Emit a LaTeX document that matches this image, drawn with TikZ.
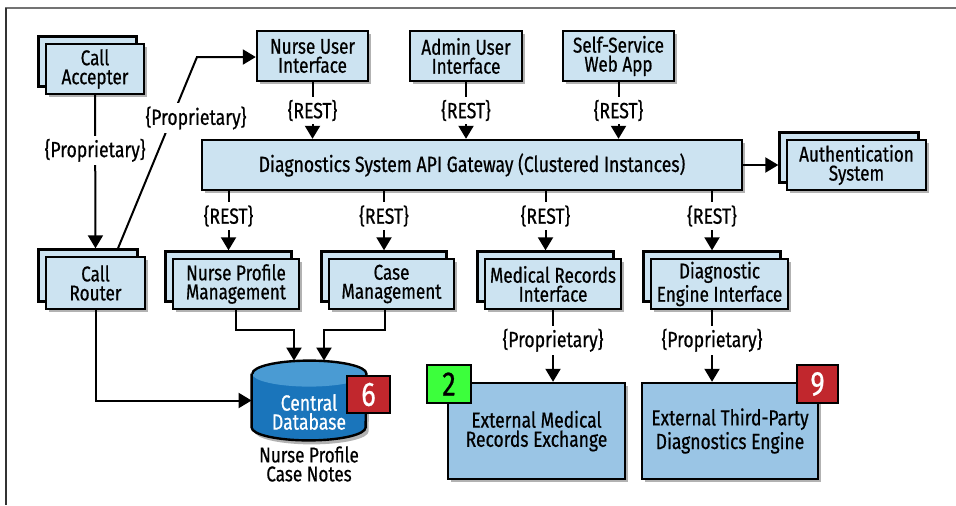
\documentclass[tikz,border=0pt]{standalone}
\usepackage{fontspec}
\setmainfont[FakeStretch=0.8,FakeBold=0.6]{Fira Sans}
\definecolor{paleblue}{HTML}{CCE3F1}
\definecolor{midblue}{HTML}{9AC5E5}
\definecolor{dbblue}{HTML}{1A75BB}
\definecolor{dbcap}{HTML}{4A9BD3}
\definecolor{badgered}{HTML}{C1272D}
\definecolor{badgegreen}{HTML}{3CFF3C}
\usetikzlibrary{arrows.meta,shadows}
\tikzset{
  box/.style={draw=black,line width=1.2pt,fill=paleblue,align=center,inner sep=0pt,
    minimum height=25pt,font=\fontsize{10.7}{9.5}\selectfont,
    drop shadow={shadow xshift=1.5pt,shadow yshift=-1.5pt,opacity=0.3,fill=black}},
  stackbox/.style={box,copy shadow={shadow xshift=-3.75pt,shadow yshift=3.75pt,
    fill=paleblue,draw=black,line width=1.2pt}},
  extbox/.style={box,fill=midblue,minimum height=48pt,font=\fontsize{10.9}{9.6}\selectfont},
  badge/.style={draw=black,line width=1.2pt,inner sep=0pt,font=\fontsize{17}{17}\selectfont},
  lbl/.style={fill=white,inner sep=1.5pt,font=\fontsize{11}{10}\selectfont},
  flow/.style={line width=1pt,-{Triangle[width=7.5pt,length=6.5pt]}}
}

\begin{document}
\begin{tikzpicture}[x=0.5pt,y=0.5pt]
  \useasboundingbox (0,0) rectangle (956,505);
  % Frame
  \draw[black!55,line width=1pt] (5,497) -- (956,497);
  \draw[black!80,line width=1pt] (6,497) -- (6,0);

  % Call handling
  \node[stackbox,minimum width=49pt] (acc) at (95,436) {Call\\Accepter};
  \node[stackbox,minimum width=49.5pt,minimum height=26pt] (router) at (95.5,222) {Call\\Router};

  % User interfaces
  \node[box,minimum width=55.5pt] (nui) at (312.5,449) {Nurse User\\Interface};
  \node[box,minimum width=56pt] (aui) at (466,449) {Admin User\\Interface};
  \node[box,minimum width=55.5pt] (ssw) at (618.5,449) {Self-Service\\Web App};

  % Gateway
  \node[box,minimum width=270pt,font=\fontsize{11}{10}\selectfont] (gw) at (472,340)
    {Diagnostics System API Gateway (Clustered Instances)};
  \node[stackbox,minimum width=69.5pt] (auth) at (856.5,340) {Authentication\\System};

  % Services
  \node[stackbox,minimum width=63pt] (npm) at (236,221) {Nurse Profile\\Management};
  \node[stackbox,minimum width=62.5pt] (cm) at (391.5,221) {Case\\Management};
  \node[stackbox,minimum width=68pt] (mri) at (553,221) {Medical Records\\Interface};
  \node[stackbox,minimum width=68.5pt] (dei) at (719.5,221) {Diagnostic\\Engine Interface};

  % External systems
  \node[extbox,minimum width=88.5pt] (emr) at (536.5,74) {External Medical\\Records Exchange};
  \node[extbox,minimum width=88pt] (etp) at (730,74) {External Third-Party\\Diagnostics Engine};

  % Database
  \node[minimum width=57pt,minimum height=39.5pt,inner sep=0pt] (db) at (309,104.5) {};
  \fill[black,opacity=0.3] ([shift={(1.5pt,-8pt)}]db.north west) -- ([shift={(1.5pt,4.5pt)}]db.south west)
    arc[start angle=180,end angle=360,x radius=28.5pt,y radius=6.5pt] -- ([shift={(1.5pt,-8pt)}]db.north east) -- cycle;
  \fill[dbblue] ([yshift=-6.5pt]db.north west) -- ([yshift=6.5pt]db.south west)
    arc[start angle=180,end angle=360,x radius=28.5pt,y radius=6.5pt] -- ([yshift=-6.5pt]db.north east) -- cycle;
  \fill[dbcap] ([yshift=-6.5pt]db.north) ellipse[x radius=28.5pt,y radius=6.5pt];
  \draw[line width=1.2pt] ([yshift=-6.5pt]db.north west) -- ([yshift=6.5pt]db.south west)
    arc[start angle=180,end angle=360,x radius=28.5pt,y radius=6.5pt] -- ([yshift=-6.5pt]db.north east)
    arc[start angle=0,end angle=180,x radius=28.5pt,y radius=6.5pt];
  \node[white,align=center,font=\fontsize{11}{9.5}\selectfont] (dbname) at (309,93) {Central\\Database};
  \node[align=center,font=\fontsize{10.7}{9.5}\selectfont] (dbnote) at (309,41) {Nurse Profile\\Case Notes};

  % Badges
  \node[badge,fill=badgered,text=white,minimum width=21.5pt,minimum height=18.5pt] (b6) at (368.5,110.5) {6};
  \node[badge,fill=badgegreen,minimum width=22pt,minimum height=19pt] (b2) at (449,121) {2};
  \node[badge,fill=badgered,text=white,minimum width=20.5pt,minimum height=19pt] (b9) at (817.5,121) {9};

  % Connectors
  \draw[flow] (acc.south) -- ([yshift=3.75pt]router.north) node[lbl,pos=0.36] (pacc) {\{Proprietary\}};
  \coordinate (kink) at (197,448);
  \draw[flow] ([shift={(11.25pt,3.75pt)}]router.north) -- (kink) -- (kink -| nui.west);
  \node[lbl] (prouter) at (196,387) {\{Proprietary\}};

  \foreach \ui in {nui,aui,ssw}
    \draw[flow] (\ui.south) -- (\ui.south |- gw.north) node[lbl,midway] (rest\ui) {\{REST\}};
  \draw[flow] (gw.east) -- ([xshift=-3.75pt]auth.west);

  \foreach \svc in {npm,cm,mri,dei} {
    \coordinate (\svc top) at ([shift={(-3.75pt,3.75pt)}]\svc.north);
    \draw[flow] (gw.south -| \svc top) -- (\svc top) node[lbl,pos=0.42] (rest\svc) {\{REST\}};
  }

  \draw[flow] (npm.south) -- ++(0,-20) -| ([xshift=-7.5pt]db.north);
  \draw[flow] ([xshift=-3.25pt]cm.south) -- ++(0,-20) -| ([xshift=7.5pt]db.north);
  \draw[flow] (router.south) |- (db.west);

  \draw[flow] (mri.south) -- (mri.south |- emr.north) node[lbl,pos=0.42] (pmri) {\{Proprietary\}};
  \coordinate (dei foot) at ([xshift=-3.75pt]dei.south);
  \draw[flow] (dei foot) -- (dei foot |- etp.north) node[lbl,pos=0.42] (pdei) {\{Proprietary\}};
\end{tikzpicture}
\end{document}
